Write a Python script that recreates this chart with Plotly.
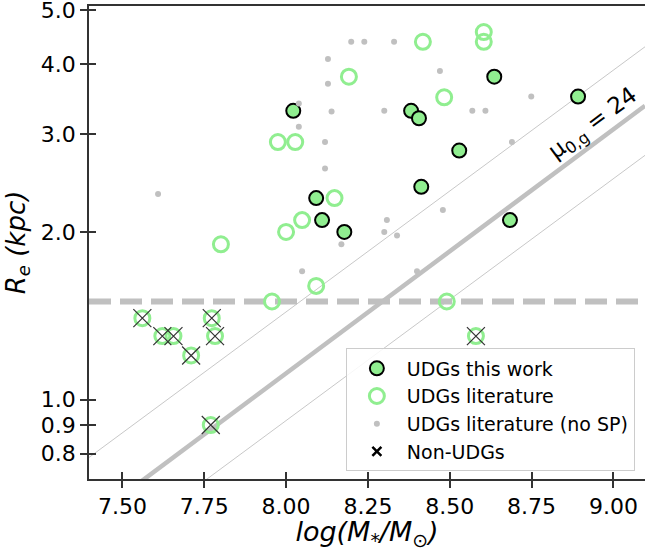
import numpy as np
import plotly.graph_objs as go

# UDGs this work (log M*, Re in kpc)
work_logm = [8.022, 8.092, 8.110, 8.178, 8.382, 8.406, 8.413, 8.529, 8.636, 8.684, 8.892]
work_re = [3.30, 2.30, 2.10, 2.00, 3.30, 3.20, 2.41, 2.80, 3.80, 2.10, 3.50]

# UDGs literature with SP
lit_logm = [8.192, 7.975, 8.028, 8.418, 8.604, 8.604, 8.483, 8.148, 8.049, 8.000,
            8.092, 7.957, 7.801, 8.491]
lit_re = [3.80, 2.90, 2.90, 4.39, 4.57, 4.39, 3.49, 2.30, 2.10, 2.00,
          1.60, 1.50, 1.90, 1.50]

# UDGs literature without SP
nosp_logm = [7.609, 8.039, 8.039, 8.049, 8.119, 8.119, 8.128, 8.128, 8.139, 8.169,
             8.199, 8.239, 8.300, 8.300, 8.308, 8.330, 8.339, 8.400, 8.470, 8.479,
             8.569, 8.609, 8.690, 8.749]
nosp_re = [2.34, 3.40, 3.09, 1.70, 2.90, 2.60, 4.09, 3.69, 3.29, 1.90,
           4.39, 4.39, 3.30, 2.00, 2.10, 4.39, 1.97, 1.70, 3.89, 2.19,
           3.30, 3.30, 2.90, 3.50]

# non-UDGs
non_logm = [7.561, 7.622, 7.656, 7.710, 7.773, 7.783, 7.770, 8.580]
non_re = [1.40, 1.30, 1.30, 1.20, 1.40, 1.30, 0.90, 1.30]

# constant surface brightness lines (end points)
line_logm = [7.398, 9.0965]
mu24_re = [0.607, 3.37]
upper_re = [0.787, 4.30]
lower_re = [0.502, 2.745]
re_cut = 1.5

x_range = [7.398, 9.0965]
y_range = [np.log10(0.72), np.log10(5.09)]
xticks = [7.50, 7.75, 8.00, 8.25, 8.50, 8.75, 9.00]
yticks = [0.8, 0.9, 1.0, 2.0, 3.0, 4.0, 5.0]
yticktext = ['0.8', '0.9', '1.0', '2.0', '3.0', '4.0', '5.0']

FONT = 'DejaVu Sans'
AX = '#333333'
GREEN = '#90EE90'

fig = go.Figure()

# lines
fig.add_trace(go.Scatter(x=line_logm, y=upper_re, mode='lines', line=dict(color='#c8c8c8', width=1),
                         showlegend=False, hoverinfo='skip'))
fig.add_trace(go.Scatter(x=line_logm, y=lower_re, mode='lines', line=dict(color='#c8c8c8', width=1),
                         showlegend=False, hoverinfo='skip'))
fig.add_trace(go.Scatter(x=line_logm, y=mu24_re, mode='lines', line=dict(color='#c0c0c0', width=4.5),
                         showlegend=False, hoverinfo='skip'))
fig.add_trace(go.Scatter(x=x_range, y=[re_cut, re_cut], mode='lines',
                         line=dict(color='#c0c0c0', width=6, dash='22px,9px'),
                         showlegend=False, hoverinfo='skip'))

# points
fig.add_trace(go.Scatter(x=work_logm, y=work_re, mode='markers', name='UDGs this work',
                         marker=dict(size=14, color=GREEN, line=dict(color='black', width=2))))
fig.add_trace(go.Scatter(x=lit_logm, y=lit_re, mode='markers', name='UDGs literature',
                         marker=dict(size=15, symbol='circle-open', color=GREEN, line=dict(width=3))))
fig.add_trace(go.Scatter(x=nosp_logm, y=nosp_re, mode='markers', name='UDGs literature (no SP)',
                         marker=dict(size=6, color='#c0c0c0')))
fig.add_trace(go.Scatter(x=non_logm, y=non_re, mode='markers', showlegend=False,
                         marker=dict(size=15, symbol='circle-open', color=GREEN, line=dict(width=3))))
fig.add_trace(go.Scatter(x=non_logm, y=non_re, mode='markers', showlegend=False,
                         marker=dict(size=18, symbol='x-thin-open', color=AX, line=dict(width=1.2, color=AX))))
fig.add_trace(go.Scatter(x=[None], y=[None], mode='markers', name='Non-UDGs',
                         marker=dict(size=9, symbol='x-thin-open', color='black',
                                     line=dict(width=2.5, color='black'))))

# overlay axes for the inner half of the ticks
fig.add_trace(go.Scatter(x=[None], y=[None], xaxis='x2', yaxis='y2', showlegend=False, hoverinfo='skip'))

fig.add_annotation(x=8.94, y=np.log10(3.12), text='μ<sub>0,g</sub> = 24', showarrow=False,
                   textangle=-36.5, font=dict(family=FONT, size=23, color='black'))

fig.update_layout(
    width=645, height=551,
    margin=dict(l=89, r=0, t=6, b=72),
    plot_bgcolor='white', paper_bgcolor='white',
    font=dict(family=FONT, color='black'),
    xaxis=dict(range=x_range, tickvals=xticks, tickformat='.2f', ticks='outside', ticklen=7,
               tickwidth=1.5, tickcolor=AX, showline=True, linecolor=AX, linewidth=1.5, mirror=True,
               showgrid=False, zeroline=False, tickfont=dict(size=22), automargin=False,
               ticklabeloverflow='allow',
               title=dict(text='<i>log(M<sub>*</sub>/M<sub>⊙</sub>)</i>', font=dict(size=27), standoff=1)),
    yaxis=dict(type='log', range=y_range, tickvals=yticks, ticktext=yticktext, ticks='outside',
               ticklen=7, tickwidth=1.5, tickcolor=AX, showline=True, linecolor=AX, linewidth=1.5,
               showgrid=False, zeroline=False, tickfont=dict(size=22), automargin=False,
               ticklabeloverflow='allow',
               title=dict(text='<i>R<sub>e</sub> (kpc)</i>', font=dict(size=26), standoff=8)),
    xaxis2=dict(overlaying='x', anchor='y2', range=x_range, tickvals=xticks, ticks='inside', ticklen=7,
                tickwidth=1.5, tickcolor=AX, showticklabels=False, showline=False, showgrid=False,
                zeroline=False),
    yaxis2=dict(overlaying='y', anchor='x2', type='log', range=y_range, tickvals=yticks, ticks='inside',
                ticklen=7, tickwidth=1.5, tickcolor=AX, showticklabels=False, showline=False,
                showgrid=False, zeroline=False),
    legend=dict(x=0.462, y=0.276, xanchor='left', yanchor='top', bgcolor='rgba(255,255,255,0.85)',
                bordercolor='#cccccc', borderwidth=1, font=dict(size=19), itemwidth=50),
)

# page body has a default 8px margin, remove it so the figure sits at the window corner
fig.write_html("out.html", config={'displayModeBar': False},
               post_script="document.body.style.margin='0';")
